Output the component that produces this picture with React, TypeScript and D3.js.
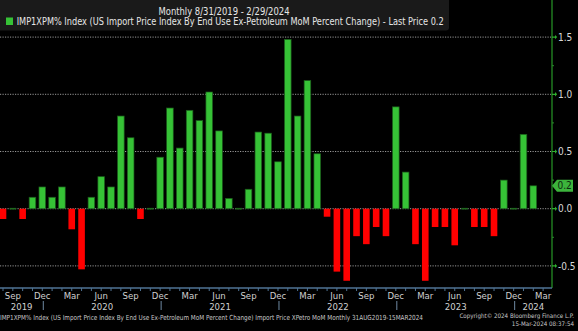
import React from "react";
import * as d3 from "d3";

const months: string[] = [
  "2019-08","2019-09","2019-10","2019-11","2019-12",
  "2020-01","2020-02","2020-03","2020-04","2020-05","2020-06","2020-07","2020-08","2020-09","2020-10","2020-11","2020-12",
  "2021-01","2021-02","2021-03","2021-04","2021-05","2021-06","2021-07","2021-08","2021-09","2021-10","2021-11","2021-12",
  "2022-01","2022-02","2022-03","2022-04","2022-05","2022-06","2022-07","2022-08","2022-09","2022-10","2022-11","2022-12",
  "2023-01","2023-02","2023-03","2023-04","2023-05","2023-06","2023-07","2023-08","2023-09","2023-10","2023-11","2023-12",
  "2024-01","2024-02",
];
const values: number[] = [
  -0.09, 0, -0.09, 0.1, 0.19,
  0.1, 0.19, -0.18, -0.53, 0.1, 0.28, 0.19, 0.81, 0.62, -0.09, 0, 0.45,
  0.88, 0.53, 0.86, 0.77, 1.02, 0.68, 0.09, 0, 0.17, 0.67, 0.66, 0.41,
  1.48, 0.81, 1.12, 0.48, -0.07, -0.55, -0.63, -0.24, -0.31, -0.16, -0.24, 0.89,
  0.32, -0.31, -0.63, -0.16, -0.16, -0.32, 0, -0.16, -0.16, -0.24, 0.25, 0,
  0.65, 0.2,
];
const yTicks: number[] = [-0.5, 0, 0.5, 1.0, 1.5];
const yMinorTicks: number[] = [-0.25, 0.25, 0.75, 1.25];
const monthLabels: { idx: number; label: string }[] = [
  { idx: 1, label: "Sep" }, { idx: 4, label: "Dec" }, { idx: 7, label: "Mar" }, { idx: 10, label: "Jun" },
  { idx: 13, label: "Sep" }, { idx: 16, label: "Dec" }, { idx: 19, label: "Mar" }, { idx: 22, label: "Jun" },
  { idx: 25, label: "Sep" }, { idx: 28, label: "Dec" }, { idx: 31, label: "Mar" }, { idx: 34, label: "Jun" },
  { idx: 37, label: "Sep" }, { idx: 40, label: "Dec" }, { idx: 43, label: "Mar" }, { idx: 46, label: "Jun" },
  { idx: 49, label: "Sep" }, { idx: 52, label: "Dec" }, { idx: 55, label: "Mar" },
];
const yearLabels: string[] = ["2019", "2020", "2021", "2022", "2023", "2024"];
const yearSeparators: number[] = [4, 16, 28, 40, 52];
const lastPrice = 0.2;

const TITLE = "Monthly 8/31/2019 - 2/29/2024";
const LEGEND = "IMP1XPM% Index (US Import Price Index By End Use Ex-Petroleum MoM Percent Change) - Last Price 0.2";
const FOOT_LEFT = "IMP1XPM% Index (US Import Price Index By End Use Ex-Petroleum MoM Percent Change) Import Price XPetro MoM  Monthly 31AUG2019-15MAR2024";
const FOOT_COPY = "Copyright\u00A9 2024 Bloomberg Finance L.P.";
const FOOT_DATE = "15-Mar-2024 08:37:54";

const FONT = "'DejaVu Sans Condensed', 'Liberation Sans Narrow', 'Arial Narrow', sans-serif";

export default function App() {
  const W = 578, H = 331;
  const axisX = 552;
  const axisY = 288;
  const x = d3.scaleLinear().domain([0, 54]).range([3, 533.3]);
  const y = d3.scaleLinear().domain([0, 1.5]).range([208.7, 37.1]);
  const barW = 6.6;
  const green = "#36c236";
  const red = "#ff0000";

  const sepX = [0, ...yearSeparators.map((i) => x(i) + 1), axisX];

  return (
    <svg width={W} height={H} style={{ position: "absolute", left: 0, top: 0, background: "#000" }} fontFamily={FONT}>
      <rect x={0} y={0} width={W} height={H} fill="#000" />
      {/* header box */}
      <rect x={-4} y={-4} width={453} height={34.5} rx={3} fill="#1a1a1a" />
      <text x={224} y={15} textAnchor="middle" fontSize={10} fill="#e6e6e6" textLength={131} lengthAdjust="spacingAndGlyphs">{TITLE}</text>
      <rect x={6} y={17.5} width={7} height={7.5} fill={green} />
      <text x={16.7} y={25.3} fontSize={10} fill="#e6e6e6" textLength={427} lengthAdjust="spacingAndGlyphs">{LEGEND}</text>

      {/* gridlines */}
      {yTicks.map((t) => (
        <line key={"g" + t} x1={0} x2={axisX} y1={y(t)} y2={y(t)} stroke="#a8a8a8" strokeWidth={0.9} strokeDasharray="1.2 1.3" />
      ))}

      {/* bars */}
      {values.map((v, i) => {
        const cx = x(i);
        if (v === 0) {
          return <rect key={"b" + i} x={cx - barW / 2} y={y(0) - 0.8} width={barW} height={1.6} fill="#1f6a1f" />;
        }
        const top = Math.min(y(v), y(0));
        const h = Math.abs(y(v) - y(0));
        return v > 0 ? (
          <rect key={"b" + i} x={cx - barW / 2} y={top} width={barW} height={h} fill={green} stroke="#1c5e1c" strokeWidth={0.7} />
        ) : (
          <rect key={"b" + i} x={cx - barW / 2} y={top} width={barW} height={h} fill={red} />
        );
      })}

      {/* right axis */}
      <line x1={axisX} x2={axisX} y1={0} y2={axisY} stroke="#1f7a1f" strokeWidth={1.5} />
      {yMinorTicks.map((t) => (
        <line key={"m" + t} x1={axisX} x2={axisX + 2} y1={y(t)} y2={y(t)} stroke="#2a8a2a" strokeWidth={1} />
      ))}
      {yTicks.map((t) => (
        <g key={"t" + t}>
          <path d={`M${axisX},${y(t) - 0.6}L${axisX + 3},${y(t) - 0.6}L${axisX + 3},${y(t) - 2.2}L${axisX + 5.2},${y(t)}L${axisX + 3},${y(t) + 2.2}L${axisX + 3},${y(t) + 0.6}L${axisX},${y(t) + 0.6}Z`} fill="#2fae2f" />
          <text x={558} y={y(t) + 3.6} fontSize={10} fill="#d8d8d8">{t.toFixed(1)}</text>
        </g>
      ))}

      {/* last price tag */}
      <path d={`M${axisX},${y(lastPrice)}L${axisX + 5},${y(lastPrice) - 6}L${573},${y(lastPrice) - 6}L${573},${y(lastPrice) + 6}L${axisX + 5},${y(lastPrice) + 6}Z`} fill="#3cb43c" />
      <text x={557.5} y={y(lastPrice) + 3.6} fontSize={10} fill="#0c2a0c">{lastPrice.toFixed(1)}</text>

      {/* bottom axis */}
      <line x1={0} x2={axisX} y1={axisY} y2={axisY} stroke="#4f7394" strokeWidth={1.5} />
      {d3.range(0, 56).map((i) => (
        <line key={"xt" + i} x1={x(i)} x2={x(i)} y1={axisY} y2={axisY + 3} stroke="#4f7394" strokeWidth={1} />
      ))}
      {monthLabels.map((m) => (
        <text key={"ml" + m.idx} x={x(m.idx)} y={299} textAnchor="middle" fontSize={9.5} fill="#d0d0d0">{m.label}</text>
      ))}
      {yearSeparators.map((i) => (
        <line key={"ys" + i} x1={x(i) + 1} x2={x(i) + 1} y1={301} y2={310} stroke="#6f8aa3" strokeWidth={1} />
      ))}
      {yearLabels.map((yl, k) => (
        <text key={"yl" + yl} x={(sepX[k] + sepX[k + 1]) / 2} y={309.5} textAnchor="middle" fontSize={9.5} fill="#d0d0d0">{yl}</text>
      ))}

      {/* footer */}
      <text x={0} y={319.5} fontSize={7} fill="#c8c8c8" textLength={423} lengthAdjust="spacingAndGlyphs">{FOOT_LEFT}</text>
      <text x={574} y={317.5} textAnchor="end" fontSize={6.2} fill="#c8c8c8">{FOOT_COPY}</text>
      <text x={574} y={325.5} textAnchor="end" fontSize={6.2} fill="#c8c8c8">{FOOT_DATE}</text>
    </svg>
  );
}
